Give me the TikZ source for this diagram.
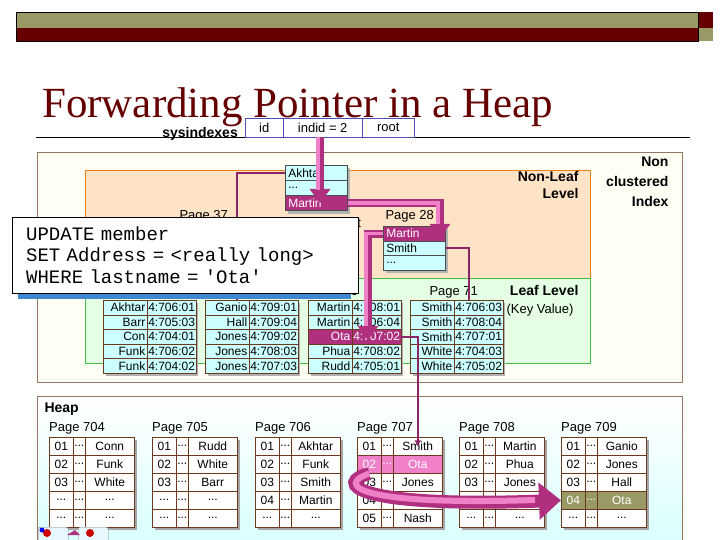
\documentclass[tikz,border=0pt]{standalone}
\usepackage{fontspec}
\setmainfont{Liberation Sans}
\newfontfamily\titlefont{Liberation Serif}
\newfontfamily\codefont{Liberation Mono}
\usetikzlibrary{arrows.meta}
\definecolor{olivebar}{HTML}{999966}
\definecolor{darkred}{HTML}{660000}
\definecolor{hot}{HTML}{B0307F}
\definecolor{pinkl}{HTML}{F080C8}
\definecolor{cyanf}{HTML}{CCFFFF}
\definecolor{brownb}{HTML}{6B3A1E}
\newcommand\dd{...}
\tikzset{
  cellbox/.style={draw=brownb, line width=0.6pt, minimum height=#1, inner sep=1pt, anchor=north west, font=\fontsize{12}{12}\selectfont},
  fat/.style={draw=hot, line width=8pt, -{Triangle[length=14pt,width=20pt]}},
  fatin/.style={draw=pinkl, line width=3.5pt},
  thin/.style={draw=hot!80!black, line width=1.8pt},
}
\def\hotname{hot}
\def\whitename{white}
\newcommand\leaftab[3]{%
  \fill[gray!60] (#1+3,303) rectangle (#1+95,376);
  \foreach \n/\v/\s [count=\i] in {#3} {
    \node[cellbox=14.6pt, minimum width=44pt, fill=\s, align=right, text width=40pt, text=\ifx\s\hotname white\else black\fi] (#2n\i) at (#1,{300+14.6*(\i-1)}) {\n};
    \node[cellbox=14.6pt, minimum width=48pt, fill=\s, text=\ifx\s\hotname white\else black\fi] (#2v\i) at (#1+44,{300+14.6*(\i-1)}) {\v};
  }}
\newcommand\heaptab[3]{%
  \fill[gray!70] (#1+3,440) rectangle (#1+88,530);
  \foreach \a/\b/\s [count=\i] in {#3} {
    \node[cellbox=18pt, minimum width=24pt, fill=\s, text=\ifx\s\whitename black\else white\fi] (#2a\i) at (#1,{437+18*(\i-1)}) {\a};
    \node[cellbox=18pt, minimum width=12pt, fill=\s, text=\ifx\s\whitename black\else white\fi] (#2d\i) at (#1+24,{437+18*(\i-1)}) {\dd};
    \node[cellbox=18pt, minimum width=49pt, fill=\s, text=\ifx\s\whitename black\else white\fi] (#2b\i) at (#1+36,{437+18*(\i-1)}) {\b};
  }}
\begin{document}
\begin{tikzpicture}[x=1pt,y=-1pt]
\useasboundingbox (0,0) rectangle (720,540);
\fill[white] (0,0) rectangle (720,540);
% top bars
\fill[olivebar] (16,12) rectangle (698,28);
\fill[darkred] (16,28) rectangle (698,41);
\fill[darkred] (699,12) rectangle (713,28);
\fill[olivebar] (699,28) rectangle (713,41);
\draw[black,line width=0.5pt] (16,12) rectangle (698,41);
% title
\node[anchor=base west, inner sep=0, text=darkred, font=\titlefont\fontsize{43}{43}\selectfont] (title) at (42,118) {Forwarding Pointer in a Heap};
\draw[line width=1pt] (36,138) -- (690,138);
\node[anchor=base east, inner sep=0, font=\bfseries\fontsize{14}{14}\selectfont] (sys) at (238,138) {sysindexes};
\node[draw=blue!40!gray, fill=white, minimum width=38pt, minimum height=19pt, anchor=north west, inner sep=0, font=\fontsize{13}{13}\selectfont] (sid) at (245,118) {id};
\node[draw=blue!40!gray, fill=white, minimum width=79pt, minimum height=19pt, anchor=north west, inner sep=0, font=\fontsize{13}{13}\selectfont] (sindid) at (283,118) {indid = 2};
\node[draw=blue!40!gray, fill=white, minimum width=52pt, minimum height=19pt, anchor=north west, inner sep=0, font=\fontsize{13}{13}\selectfont] (sroot) at (362,118) {root};
% index region
\draw[draw=brownb!70, fill=yellow!4] (37,152) rectangle (682,382);
\draw[draw=orange!70!brown, fill=orange!22] (85,170) rectangle (590,305);
\draw[draw=green!50!gray, fill=green!10] (85,278) rectangle (590,363);
\node[align=right, anchor=north east, font=\bfseries\fontsize{14}{17}\selectfont] (nonleaf) at (582,168) {Non-Leaf\\Level};
\node[align=right, anchor=north east, font=\bfseries\fontsize{14}{20}\selectfont] (ncl) at (672,153) {Non\\clustered\\Index};
\node[anchor=base east, font=\bfseries\fontsize{14}{14}\selectfont] (leaflvl) at (582,295) {Leaf Level};
\node[anchor=base west, font=\fontsize{13}{13}\selectfont] (keyv) at (503,313) {(Key Value)};
\node[anchor=base west, font=\fontsize{13}{13}\selectfont] (p37) at (176,219) {Page 37};
\node[anchor=base west, font=\fontsize{13}{13}\selectfont] (prt) at (330,227) {Root};
\node[anchor=base west, font=\fontsize{13}{13}\selectfont] (p28) at (382,220) {Page 28};
\node[anchor=base west, font=\fontsize{13}{13}\selectfont] (p36) at (306,295) {Page 36};
\node[anchor=base west, font=\fontsize{13}{13}\selectfont] (p71) at (426,295) {Page 71};
\coordinate (l1) at (237,300);
\coordinate (l4) at (469,300);
% root node
\fill[gray!60] (288,168) rectangle (350,214);
\node[cellbox=15pt, minimum width=62pt, fill=cyanf, draw=black!70, align=left, text width=56pt] (rA) at (285,165) {Akhtar};
\node[cellbox=15pt, minimum width=62pt, fill=cyanf, draw=black!70, align=left, text width=56pt] (rB) at (285,180) {\dd};
\node[cellbox=15pt, minimum width=62pt, fill=hot, draw=black!70, text=white, align=left, text width=56pt] (rC) at (285,195) {Martin};
% page 28
\fill[gray!60] (386,229) rectangle (448,273);
\node[cellbox=14.5pt, minimum width=62pt, fill=hot, draw=black!70, text=white, align=left, text width=56pt] (qA) at (383,226) {Martin};
\node[cellbox=14.5pt, minimum width=62pt, fill=cyanf, draw=black!70, align=left, text width=56pt] (qB) at (383,240.5) {Smith};
\node[cellbox=14.5pt, minimum width=62pt, fill=cyanf, draw=black!70, align=left, text width=56pt] (qC) at (383,255) {\dd};
% leaf tables
\leaftab{103}{ta}{Akhtar/4:706:01/cyanf, Barr/4:705:03/cyanf, Con/4:704:01/cyanf, Funk/4:706:02/cyanf, Funk/4:704:02/cyanf}
\leaftab{205}{tb}{Ganio/4:709:01/cyanf, Hall/4:709:04/cyanf, Jones/4:709:02/cyanf, Jones/4:708:03/cyanf, Jones/4:707:03/cyanf}
\leaftab{308}{tc}{Martin/4:708:01/cyanf, Martin/4:706:04/cyanf, Ota/4:707:02/hot, Phua/4:708:02/cyanf, Rudd/4:705:01/cyanf}
\leaftab{410}{td}{Smith/4:706:03/cyanf, Smith/4:708:04/cyanf, Smith/4:707:01/cyanf, White/4:704:03/cyanf, White/4:705:02/cyanf}
\draw[thin] (rA.west) -| (l1);
\draw[thin] (qB.east) -| (l4);
% heap region
\shade[top color=white, bottom color=cyan!15, draw=brownb!70] (37,396) rectangle (682,545);
\node[anchor=base west, font=\bfseries\fontsize{14}{14}\selectfont] (heap) at (41,412) {Heap};
\foreach \x/\p in {49/704,152/705,255/706,357/707,459/708,561/709}
  \node[anchor=base west, inner sep=0, font=\fontsize{13}{13}\selectfont] (hp\p) at (\x,431) {Page \p};
\heaptab{49}{ha}{01/Conn/white, 02/Funk/white, 03/White/white, \dd/\dd/white, \dd/\dd/white}
\heaptab{152}{hb}{01/Rudd/white, 02/White/white, 03/Barr/white, \dd/\dd/white, \dd/\dd/white}
\heaptab{255}{hc}{01/Akhtar/white, 02/Funk/white, 03/Smith/white, 04/Martin/white, \dd/\dd/white}
\heaptab{357}{hd}{01/Smith/white, 02/Ota/pinkl, 03/Jones/white, 04/Martin/white, 05/Nash/white}
\heaptab{459}{he}{01/Martin/white, 02/Phua/white, 03/Jones/white, \dd/\dd/white, \dd/\dd/white}
\heaptab{561}{hf}{01/Ganio/white, 02/Jones/white, 03/Hall/white, 04/Ota/olivebar, \dd/\dd/white}
% pointer from leaf to heap
\draw[thin, -{Triangle[length=6pt,width=6pt]}] (tcv3.east) -| (hdb1.center);
% fat arrows
\draw[fat] (320,137) -- (320,203);
\draw[fatin] (318,137) -- (318,190);
\draw[fat] (rC.east) -| (440,238);
\draw[fatin] (rC.east) -| (438,224);
\draw[fat] (qA.west) -| (368,340);
\draw[fatin] (qA.west) -| (366,326);
\draw[fat, line width=13pt, -{Triangle[length=22pt,width=36pt]}] (hda2.south) .. controls (335,482) and (350,508) .. (hfa4.west);
\draw[fatin, line width=6pt] (hda2.south) .. controls (337,484) and (352,506) .. (535,500);
% UPDATE box
\fill[cyan!55!blue!80] (18,223) rectangle (351,299);
\node[draw=black, fill=white, anchor=north west, minimum width=333pt, minimum height=76pt, text width=318pt, align=left, inner ysep=0pt, inner xsep=14pt, font=\codefont\fontsize{19}{21.5}\selectfont] (upd) at (12,217) {UPDATE member\\SET Address = <really long>\\WHERE lastname = 'Ota'};
% icons
\node[draw=gray, fill=cyan!10, rounded corners=2pt, minimum width=30pt, minimum height=16pt, anchor=north west] (ic1) at (38,527) {};
\node[draw=gray, fill=cyan!10, rounded corners=2pt, minimum width=30pt, minimum height=16pt, anchor=north west] (ic2) at (78,527) {};
\fill[red!80!black] (47,533) circle (4); \fill[blue] (42,530) circle (2.5);
\fill[red!80!black] (90,533) circle (4); \fill[hot] (67,535) -- (80,535) -- (75,530) -- cycle;
\end{tikzpicture}
\end{document}
